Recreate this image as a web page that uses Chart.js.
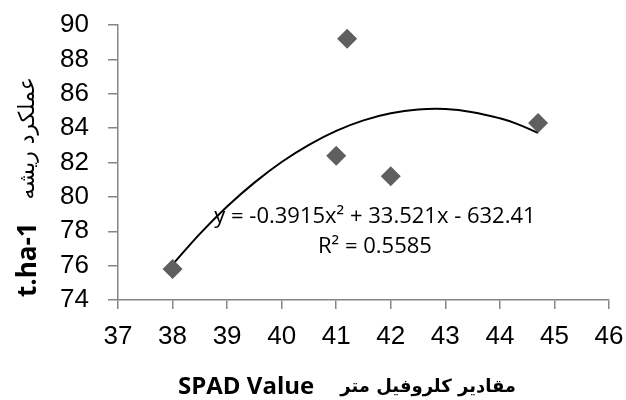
<!DOCTYPE html>
<html>
<head>
<meta charset="utf-8">
<script src="https://cdn.jsdelivr.net/npm/chart.js@4/dist/chart.umd.min.js"></script>
<style>
  html, body { margin: 0; padding: 0; background: #fff; }
  #wrap { width: 626px; height: 400px; position: relative; }
</style>
</head>
<body>
<div id="wrap"><canvas id="spadChart"></canvas></div>
<script>
// observed points (SPAD value, root yield)
const spadValues = [38, 41, 41.2, 42, 44.7];
const rootYield = [75.8, 82.4, 89.2, 81.2, 84.3];

// trendline
const trendX = [38, 38.5, 39, 39.5, 40, 40.5, 41, 41.5, 42, 42.5, 43, 43.5, 44, 44.3, 44.7];
const trendY = [76.06, 77.85, 79.44, 80.83, 82.03, 83.03, 83.84, 84.45, 84.86, 85.08, 85.11, 84.93, 84.57, 84.26, 83.73];

const xTicks = [37, 38, 39, 40, 41, 42, 43, 44, 45, 46];
const yTicks = [74, 76, 78, 80, 82, 84, 86, 88, 90];

const equationText = 'y = -0.3915x² + 33.521x - 632.41';
const r2Text = 'R² = 0.5585';
const xTitleLatin = 'SPAD Value';
const xTitleFa = 'مقادیر کلروفیل متر';
const yTitleLatin = 't.ha-1';
const yTitleFa = 'عملکرد ریشه';

const axisGray = '#868686';

const titles = {
    id: 'titles',
    afterDraw(chart) {
        const ctx = chart.ctx;
        const xs = chart.scales.x, ys = chart.scales.y;
        ctx.save();
        ctx.fillStyle = '#000';

        // equation box
        ctx.font = '22px "Open Sans", "Liberation Sans", sans-serif';
        ctx.textAlign = 'center';
        ctx.textBaseline = 'middle';
        const ex = xs.getPixelForValue(41.71);
        ctx.fillText(equationText, ex, ys.getPixelForValue(78.85));
        ctx.fillText(r2Text, ex, ys.getPixelForValue(77.1));

        // x title: bold latin + persian
        ctx.textBaseline = 'alphabetic';
        ctx.textAlign = 'left';
        ctx.font = 'bold 24px "Open Sans", "DejaVu Sans", sans-serif';
        ctx.fillText(xTitleLatin, 178, 394);
        ctx.font = 'bold 18px "DejaVu Sans", sans-serif';
        ctx.direction = 'rtl';
        ctx.textAlign = 'right';
        ctx.fillText(xTitleFa, 516, 392);

        // y title rotated (reads bottom to top)
        ctx.direction = 'ltr';
        ctx.translate(36, 0);
        ctx.rotate(-Math.PI / 2);
        ctx.textAlign = 'left';
        ctx.font = 'bold 26px "Open Sans", "Liberation Sans", sans-serif';
        ctx.fillText(yTitleLatin, -297, 0);
        ctx.font = '22px "DejaVu Sans", sans-serif';
        ctx.direction = 'rtl';
        ctx.textAlign = 'right';
        ctx.fillText(yTitleFa, -77, -2);
        ctx.restore();
    }
};

new Chart(document.getElementById('spadChart').getContext('2d'), {
    type: 'scatter',
    data: {
        datasets: [
            {
                label: 'yield',
                data: spadValues.map((x, i) => ({ x: x, y: rootYield[i] })),
                pointStyle: 'rectRot',
                pointRadius: 10,
                pointHoverRadius: 10,
                backgroundColor: '#5f5f5f',
                borderColor: '#5f5f5f',
                borderWidth: 0
            },
            {
                label: 'trend',
                data: trendX.map((x, i) => ({ x: x, y: trendY[i] })),
                showLine: true,
                pointRadius: 0,
                borderColor: '#000',
                borderWidth: 2,
                tension: 0.4,
                fill: false
            }
        ]
    },
    options: {
        responsive: true,
        maintainAspectRatio: false,
        animation: false,
        layout: { padding: { top: 25, right: 17, left: 0, bottom: 0 } },
        plugins: {
            legend: { display: false },
            tooltip: { enabled: false }
        },
        scales: {
            x: {
                type: 'linear',
                min: 37,
                max: 46,
                afterBuildTicks: s => { s.ticks = xTicks.map(v => ({ value: v })); },
                afterFit: s => { s.height = 100; s.paddingLeft = 0; s.paddingRight = 0; },
                border: { display: true, color: axisGray, width: 1.5 },
                grid: { drawOnChartArea: false, drawTicks: true, tickLength: 9, color: axisGray, lineWidth: 1.5 },
                ticks: { autoSkip: false, maxRotation: 0, color: '#000', padding: 12, font: { family: '"Liberation Sans", Arial, sans-serif', size: 26 } }
            },
            y: {
                type: 'linear',
                min: 74,
                max: 90,
                afterBuildTicks: s => { s.ticks = yTicks.map(v => ({ value: v })); },
                afterFit: s => { s.width = 118; s.paddingTop = 0; s.paddingBottom = 0; },
                border: { display: true, color: axisGray, width: 1.5 },
                grid: { drawOnChartArea: false, drawTicks: true, tickLength: 10, color: axisGray, lineWidth: 1.5 },
                ticks: { autoSkip: false, color: '#000', padding: 19, font: { family: '"Liberation Sans", Arial, sans-serif', size: 26 } }
            }
        }
    },
    plugins: [titles]
});
</script>
</body>
</html>
